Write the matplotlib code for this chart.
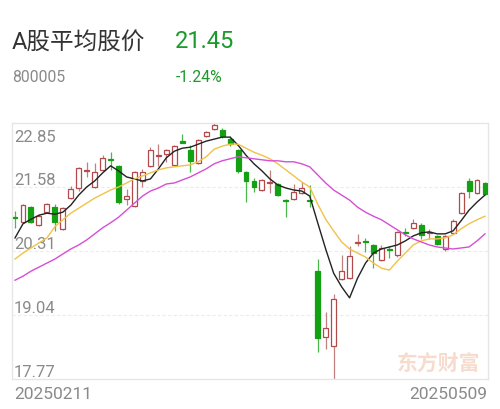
import matplotlib
matplotlib.use("Agg")
import matplotlib.pyplot as plt
import numpy as np

plt.rcParams['font.family'] = ['Roboto', 'Noto Sans CJK SC', 'DejaVu Sans']

# daily candles, 20250211 .. 20250509
opens = [20.98, 20.89, 21.18, 20.83, 21.08, 21.18, 20.75, 21.36, 21.56, 21.90,
         21.58, 21.92, 22.14, 22.00, 21.34, 21.20, 21.70, 22.00, 22.20, 22.23,
         22.02, 22.49, 22.31, 22.06, 22.59, 22.73, 22.71, 22.53, 22.31, 21.88,
         21.70, 21.52, 21.66, 21.64, 21.32, 21.34, 21.46, 21.32, 19.91, 18.60,
         18.42, 19.75, 19.77, 20.47, 20.51, 20.43, 20.13, 20.35, 20.23, 20.69,
         20.77, 20.83, 20.67, 20.61, 20.35, 20.67, 21.06, 21.70, 21.46, 21.66]
highs = [21.10, 21.24, 21.20, 21.04, 21.26, 21.24, 21.18, 21.60, 21.98, 22.08,
         22.06, 22.21, 22.27, 22.02, 21.54, 21.90, 21.94, 22.37, 22.43, 22.33,
         22.41, 22.63, 22.41, 22.53, 22.69, 22.85, 22.75, 22.59, 22.33, 21.90,
         21.76, 21.74, 21.92, 21.66, 21.34, 21.64, 21.68, 21.62, 20.15, 19.10,
         19.46, 20.23, 20.41, 20.65, 20.57, 20.45, 20.43, 20.41, 20.71, 20.77,
         20.94, 20.87, 20.75, 20.63, 20.63, 20.94, 21.48, 21.76, 21.74, 21.68]
lows = [20.77, 20.87, 20.87, 20.81, 21.06, 20.71, 20.73, 21.34, 21.50, 21.78,
        21.56, 21.90, 21.92, 21.24, 21.22, 21.18, 21.58, 21.98, 22.00, 22.08,
        22.00, 22.45, 21.88, 22.04, 22.57, 22.71, 22.55, 22.39, 21.86, 21.28,
        21.48, 21.50, 21.46, 21.40, 20.98, 21.32, 21.44, 21.18, 18.31, 18.37,
        17.77, 19.73, 19.75, 20.41, 20.29, 19.97, 20.11, 20.17, 20.19, 20.61,
        20.75, 20.55, 20.55, 20.43, 20.31, 20.65, 21.04, 21.36, 21.44, 21.44]
closes = [20.96, 21.22, 20.89, 21.00, 21.24, 20.89, 21.16, 21.54, 21.96, 21.92,
          21.88, 22.16, 22.12, 21.28, 21.40, 21.88, 21.88, 22.31, 22.21, 22.31,
          22.39, 22.45, 22.10, 22.51, 22.67, 22.81, 22.59, 22.43, 21.90, 21.70,
          21.58, 21.72, 21.68, 21.42, 21.30, 21.48, 21.56, 21.30, 18.58, 18.78,
          19.36, 19.91, 20.21, 20.49, 20.49, 20.27, 20.37, 20.33, 20.69, 20.67,
          20.87, 20.63, 20.69, 20.45, 20.61, 20.91, 21.46, 21.50, 21.72, 21.45]

ma5 = [20.57, 20.85, 20.94, 21.02, 21.06, 21.04, 21.08, 21.22, 21.42, 21.58,
       21.70, 21.86, 22.00, 21.90, 21.78, 21.74, 21.70, 21.74, 21.94, 22.16,
       22.29, 22.35, 22.37, 22.43, 22.49, 22.53, 22.57, 22.57, 22.41, 22.21,
       22.04, 21.90, 21.74, 21.62, 21.56, 21.52, 21.50, 21.40, 20.87, 20.35,
       19.87, 19.60, 19.38, 19.77, 20.07, 20.27, 20.35, 20.39, 20.43, 20.51,
       20.61, 20.67, 20.69, 20.65, 20.65, 20.71, 20.91, 21.12, 21.28, 21.42]
ma10 = [20.15, 20.27, 20.37, 20.47, 20.57, 20.79, 20.93, 21.06, 21.16, 21.26,
        21.36, 21.44, 21.52, 21.58, 21.66, 21.74, 21.80, 21.86, 21.92, 21.96,
        21.98, 22.00, 22.02, 22.08, 22.18, 22.33, 22.39, 22.43, 22.43, 22.35,
        22.27, 22.21, 22.14, 22.04, 21.92, 21.80, 21.68, 21.58, 21.24, 20.94,
        20.71, 20.49, 20.35, 20.27, 20.19, 20.07, 19.97, 19.93, 20.11, 20.27,
        20.43, 20.51, 20.55, 20.55, 20.57, 20.63, 20.75, 20.85, 20.93, 21.00]
ma20 = [19.73, 19.81, 19.91, 19.99, 20.07, 20.15, 20.25, 20.35, 20.43, 20.53,
        20.65, 20.77, 20.87, 20.98, 21.12, 21.26, 21.40, 21.50, 21.56, 21.64,
        21.66, 21.72, 21.78, 21.86, 21.94, 22.04, 22.10, 22.14, 22.18, 22.16,
        22.14, 22.12, 22.10, 22.10, 22.08, 22.08, 22.04, 21.98, 21.82, 21.66,
        21.52, 21.42, 21.32, 21.18, 21.08, 21.00, 20.93, 20.83, 20.73, 20.63,
        20.55, 20.49, 20.43, 20.39, 20.37, 20.35, 20.37, 20.39, 20.51, 20.65]

y_ticks = [22.85, 21.58, 20.31, 19.04, 17.77]
first_date = "20250211"
last_date = "20250509"

red = '#b24a4a'
green = '#13a013'
grid_c = '#e6e6e6'

fig = plt.figure(figsize=(5, 4.1), dpi=100)
ax = fig.add_axes([12/500, 1-380/410, 476/500, 256/410])

n = len(closes)
x = np.arange(n)
o = np.array(opens); c = np.array(closes)
h = np.array(highs); l = np.array(lows)
up = c >= o

# wicks
ax.vlines(x[up], l[up], h[up], color='#c08080', lw=0.9, zorder=2)
ax.vlines(x[~up], l[~up], h[~up], color='#4cb84c', lw=0.9, zorder=2)

bottom = np.minimum(o, c)
height = np.maximum(np.abs(c - o), 0.012)
ax.bar(x[up], height[up], bottom=bottom[up], width=0.62,
       facecolor='white', edgecolor=red, linewidth=0.9, zorder=3)
ax.bar(x[~up], height[~up], bottom=bottom[~up], width=0.62,
       facecolor=green, edgecolor=green, linewidth=0.9, zorder=3)

ax.plot(x, ma5, color='#222222', lw=1.0, zorder=4)
ax.plot(x, ma10, color='#f0c24a', lw=1.0, zorder=4)
ax.plot(x, ma20, color='#d54fd5', lw=1.0, zorder=4)

ax.set_xlim(-0.38, n - 1 + 0.38)
ax.set_ylim(y_ticks[-1], y_ticks[0])
ax.set_xticks([]); ax.set_yticks([])
for s in ax.spines.values():
    s.set_color(grid_c)
    s.set_linewidth(1.0)
for v in y_ticks[1:-1]:
    ax.axhline(v, color='#ececec', lw=0.8, ls=(0, (3, 2)), zorder=1)

for i, v in enumerate(y_ticks):
    if i == 0:
        ax.annotate(f"{v:.2f}", (0, v), xycoords=('axes fraction', 'data'),
                    xytext=(1.5, -4), textcoords='offset points',
                    ha='left', va='top', fontsize=12, color='#8a8a8a')
    else:
        ax.annotate(f"{v:.2f}", (0, v), xycoords=('axes fraction', 'data'),
                    xytext=(1.5, 0), textcoords='offset points',
                    ha='left', va='bottom', fontsize=12, color='#8a8a8a')

ax.text(0.983, 0.06, "东方财富", transform=ax.transAxes, ha='right', va='center',
        fontsize=15, fontweight='bold', color='#f7dccd', zorder=0)

fig.text(14/500, 1-395/410, first_date, ha='left', va='center', fontsize=12.5, color='#8a8a8a')
fig.text(487/500, 1-395/410, last_date, ha='right', va='center', fontsize=12.5, color='#8a8a8a')

fig.text(12/500, 1-42/410, "A股平均股价", ha='left', va='center', fontsize=17, color='#333333')
fig.text(175/500, 1-42/410, "21.45", ha='left', va='center', fontsize=17, color='#1a9a2a')
fig.text(12/500, 1-78/410, "800005", ha='left', va='center', fontsize=11.3, color='#8a8a8a')
fig.text(176/500, 1-78/410, "-1.24%", ha='left', va='center', fontsize=11.3, color='#1a9a2a')

fig.savefig("out.png", dpi=100)
